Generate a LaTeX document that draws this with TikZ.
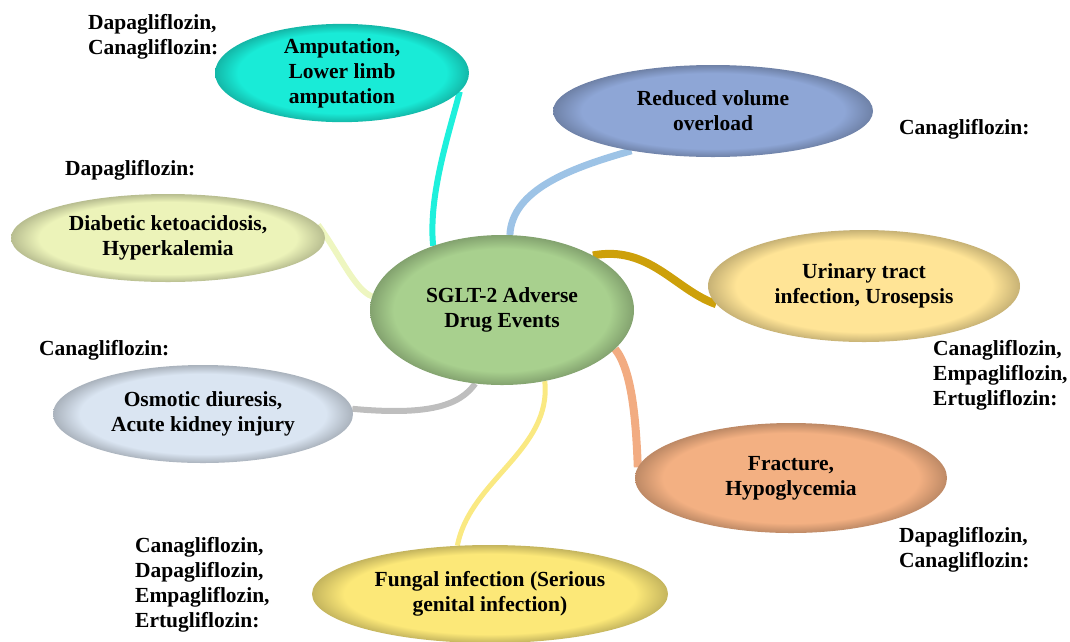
\documentclass[tikz,border=0pt]{standalone}
\usepackage{fontspec}
\setmainfont{Liberation Serif}
\usetikzlibrary{shapes.geometric,backgrounds}

\definecolor{ctrc}{RGB}{168,208,142}
\definecolor{ampc}{RGB}{25,235,215}
\definecolor{rvoc}{RGB}{142,166,214}
\definecolor{dkac}{RGB}{236,243,185}
\definecolor{utic}{RGB}{255,228,150}
\definecolor{odc}{RGB}{218,229,242}
\definecolor{fhc}{RGB}{243,176,130}
\definecolor{fic}{RGB}{252,232,120}

\definecolor{ampl}{RGB}{30,240,220}
\definecolor{rvol}{RGB}{157,195,230}
\definecolor{util}{RGB}{205,160,10}
\definecolor{dkal}{RGB}{238,246,192}
\definecolor{odl}{RGB}{190,190,190}
\definecolor{fil}{RGB}{250,233,130}
\definecolor{fhl}{RGB}{242,172,130}

\colorlet{glowin}{white}
\colorlet{glowout}{gray}
\pgfdeclareradialshading[glowin,glowout]{glow}{\pgfpoint{0pt}{0pt}}{color(0bp)=(glowin); color(20.5bp)=(glowin); color(25bp)=(glowout); color(50bp)=(glowout)}

\tikzset{
	glow colors/.code={\colorlet{glowin}{#1}\colorlet{glowout}{#1!78!black}},
	bubble/.style={shape=ellipse, inner sep=0pt, align=center, font=\bfseries\fontsize{21.5}{25}\selectfont, shading=glow, glow colors=#1, shade},
	drug/.style={anchor=west, inner sep=0pt, align=left, font=\bfseries\fontsize{21.5}{25}\selectfont},
	link/.style={line width=#1}
}

\begin{document}
\begin{tikzpicture}[x=1pt, y=-1pt]
	
	\useasboundingbox (0,0) rectangle (1070,641);
	
	\node[bubble=ctrc, minimum width=264pt, minimum height=150pt] (ctr) at (502,310) {SGLT-2 Adverse\\Drug Events};
	\node[bubble=ampc, minimum width=254pt, minimum height=96pt] (amp) at (342,73) {Amputation,\\Lower limb\\amputation};
	\node[bubble=rvoc, minimum width=320pt, minimum height=92pt] (rvo) at (713,111) {Reduced volume\\overload};
	\node[bubble=dkac, minimum width=314pt, minimum height=88pt] (dka) at (168,238) {Diabetic ketoacidosis,\\Hyperkalemia};
	\node[bubble=utic, minimum width=312pt, minimum height=112pt] (uti) at (864,286) {Urinary tract\\infection, Urosepsis};
	\node[bubble=odc, minimum width=300pt, minimum height=98pt] (od) at (203,414) {Osmotic diuresis,\\Acute kidney injury};
	\node[bubble=fhc, minimum width=312pt, minimum height=110pt] (fh) at (791,478) {Fracture,\\Hypoglycemia};
	\node[bubble=fic, minimum width=356pt, minimum height=98pt] (fi) at (490,594) {Fungal infection (Serious\\genital infection)};
	
	\node[drug] (lamp) at (88,37) {Dapagliflozin,\\Canagliflozin:};
	\node[drug] (lrvo) at (899,129) {Canagliflozin:};
	\node[drug] (ldka) at (65,170) {Dapagliflozin:};
	\node[drug] (lod) at (39,350) {Canagliflozin:};
	\node[drug] (luti) at (933,375) {Canagliflozin,\\Empagliflozin,\\Ertugliflozin:};
	\node[drug] (lfh) at (899,550) {Dapagliflozin,\\Canagliflozin:};
	\node[drug] (lfi) at (135,585) {Canagliflozin,\\Dapagliflozin,\\Empagliflozin,\\Ertugliflozin:};
	
	\begin{scope}[on background layer]
		\draw[link=6pt, ampl] (ctr.137) .. controls (428,195) and (450,130) .. (amp.-9);
		\draw[link=7pt, rvol] (ctr.84) .. controls (512,190) and (570,168) .. (rvo.-154);
		\draw[link=8pt, util] (ctr.31) .. controls (650,245) and (675,290) .. (uti.-173);
		\draw[link=6pt, dkal] (dka.5) .. controls (340,255) and (355,290) .. (ctr.174);
		\draw[link=6pt, odl] (od.2) .. controls (430,416) and (460,405) .. (ctr.-110);
		\draw[link=5pt, fil] (ctr.-59) .. controls (552,450) and (470,480) .. (fi.124);
		\draw[link=8pt, fhl] (ctr.-19) .. controls (632,370) and (636,420) .. (fh.176);
	\end{scope}
	
\end{tikzpicture}
\end{document}
